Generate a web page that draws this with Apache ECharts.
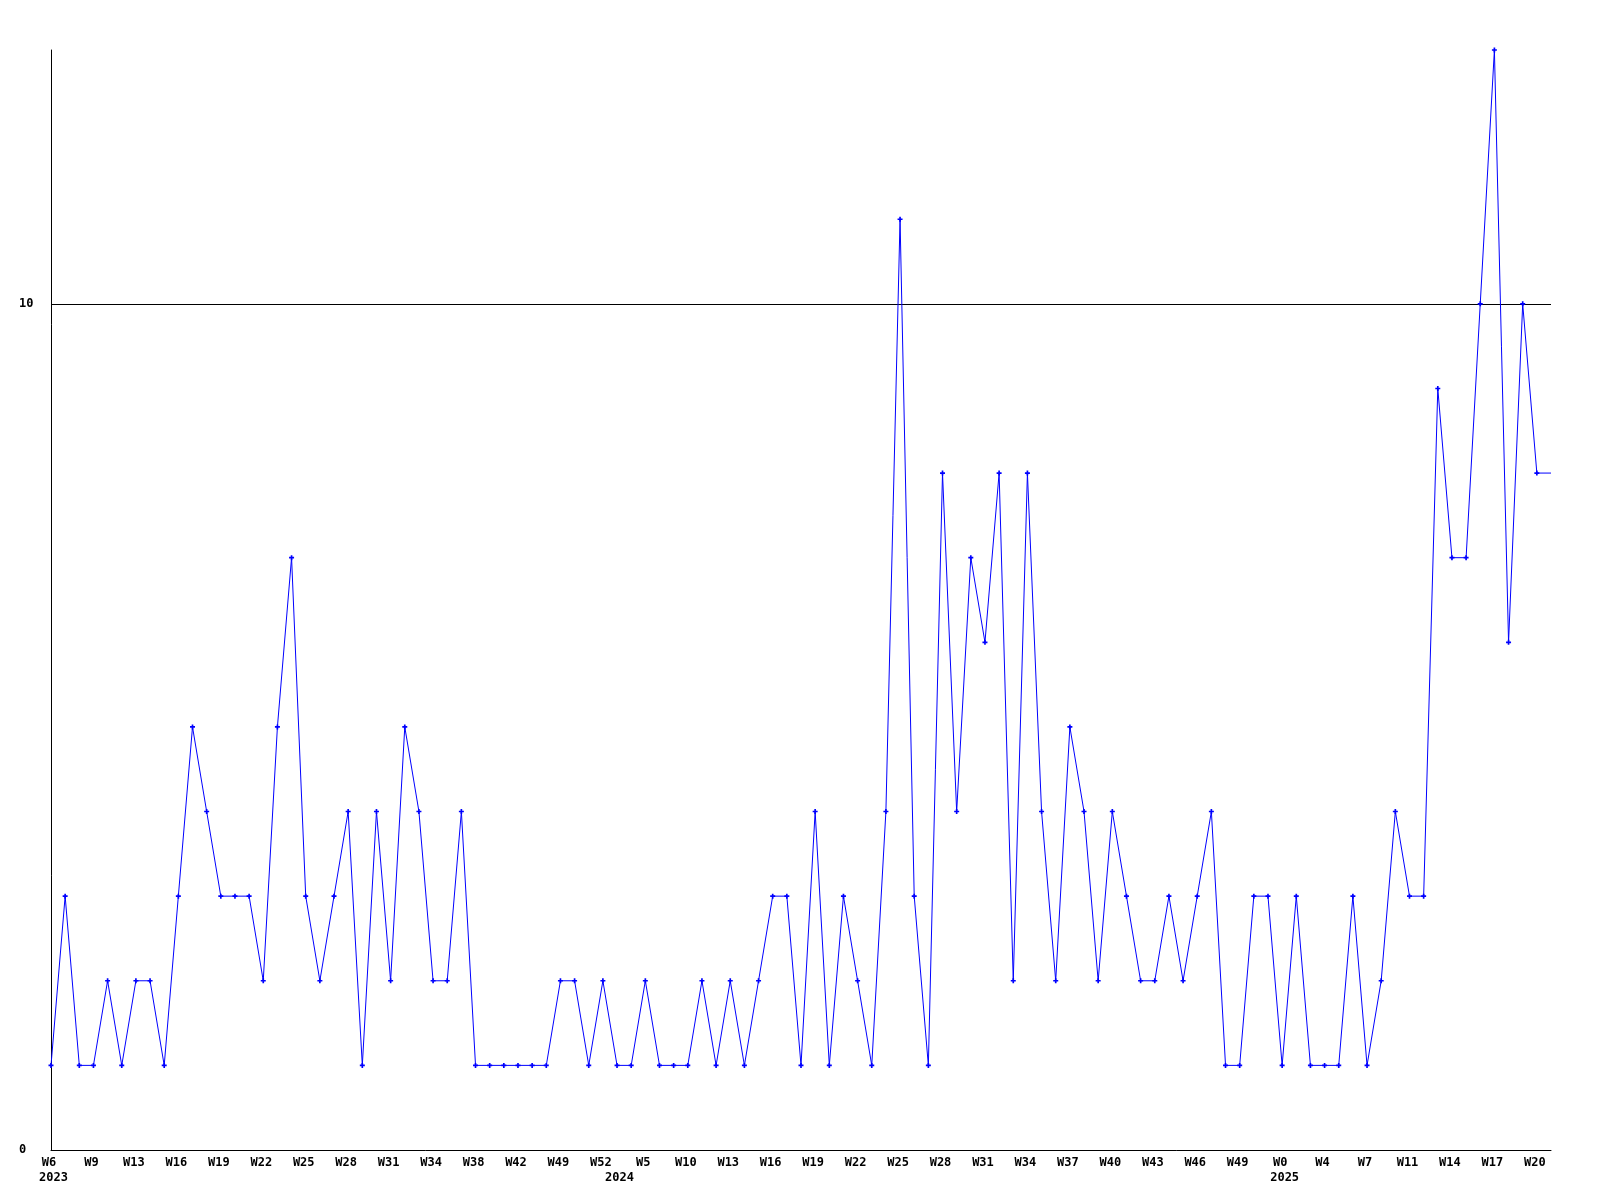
<!DOCTYPE html>
<html>
<head>
<meta charset="utf-8">
<script src="https://cdn.jsdelivr.net/npm/echarts@6/dist/echarts.min.js"></script>
<style>
  html, body { margin: 0; padding: 0; background: #ffffff; }
  #chart { width: 1600px; height: 1200px; }
</style>
</head>
<body>
<div id="chart"></div>
<script>
// Week numbers per year, as shown on the axis (every third one labelled)
const weeks2023 = [6,7,8,9,10,11,13,14,15,16,17,18,19,20,21,22,23,24,25,26,27,28,29,30,31,32,33,34,35,36,38,39,40,42,44,46,49,50,51,52];
const weeks2024 = [0,2,5,7,8,10,11,12,13,14,15,16,17,18,19,20,21,22,23,24,25,26,27,28,29,30,31,32,33,34,35,36,37,38,39,40,41,42,43,44,45,46,47,48,49,50,51];
const weeks2025 = [0,1,2,4,5,6,7,8,9,11,12,13,14,15,16,17,18,19,20,21];

// Weekly counts
const values = [
  1,3,1,1,2,1,2,2,1,3,
  5,4,3,3,3,2,5,7,3,2,
  3,4,1,4,2,5,4,2,2,4,
  1,1,1,1,1,1,2,2,1,2,
  1,1,2,1,1,1,2,1,2,1,
  2,3,3,1,4,1,3,2,1,4,
  11,3,1,8,4,7,6,8,2,8,
  4,2,5,4,2,4,3,2,2,3,
  2,3,4,1,1,3,3,1,3,1,
  1,1,3,1,2,4,3,3,9,7,
  7,10,13,6,10,8,8
];

const yTicks = [0, 10];
const refLine = 10;

const categories = []
  .concat(weeks2023.map(w => '2023-W' + w))
  .concat(weeks2024.map(w => '2024-W' + w))
  .concat(weeks2025.map(w => '2025-W' + w));

function yearOf(i) { return categories[i].split('-')[0]; }
function isYearStart(i) { return i === 0 || yearOf(i) !== yearOf(i - 1); }

const chart = echarts.init(document.getElementById('chart'), null, { renderer: 'canvas' });

const FONT = '"DejaVu Sans Mono", "Liberation Mono", monospace';
const txt = { color: '#000000', fontFamily: FONT, fontWeight: 'bold', fontSize: 12, lineHeight: 15 };

chart.setOption({
  backgroundColor: '#ffffff',
  animation: false,
  grid: { left: 51, right: 49, top: 50, bottom: 50, containLabel: false },
  xAxis: {
    type: 'category',
    data: categories,
    boundaryGap: false,
    axisLine: { show: true, lineStyle: { color: '#000000', width: 1 } },
    axisTick: { show: false },
    splitLine: { show: false },
    axisLabel: Object.assign({
      interval: function (index) { return index % 3 === 0 || isYearStart(index); },
      margin: 5,
      formatter: function (value, index) {
        const parts = value.split('-');
        const wk = index % 3 === 0 ? '{w|' + parts[1] + '}' : '{w| }';
        return isYearStart(index) ? wk + '\n{y|' + parts[0] + '}' : wk;
      },
      rich: {
        w: Object.assign({ padding: [0, 4, 0, 0] }, txt),
        y: Object.assign({ padding: [0, 0, 0, 5] }, txt)
      }
    }, txt)
  },
  yAxis: {
    type: 'value',
    min: 0,
    max: 13,
    interval: 10,
    axisLine: { show: true, lineStyle: { color: '#000000', width: 1 } },
    axisTick: { show: false },
    splitLine: { show: false },
    axisLabel: Object.assign({
      showMaxLabel: false,
      align: 'left',
      margin: 32,
      formatter: function (v) { return yTicks.indexOf(v) >= 0 ? String(v) : ''; }
    }, txt)
  },
  series: [{
    type: 'line',
    data: values.map((v, i) => i === values.length - 1 ? { value: v, symbol: 'none' } : v),
    symbol: 'path://M1,0H2V1H3V2H2V3H1V2H0V1H1Z',
    symbolSize: 5,
    showAllSymbol: true,
    itemStyle: { color: '#0000ff' },
    lineStyle: { color: '#0000ff', width: 1 },
    z: 3,
    markLine: {
      silent: true,
      symbol: ['none', 'none'],
      label: { show: false },
      lineStyle: { color: '#000000', width: 1, type: 'solid' },
      data: [{ yAxis: refLine }],
      z: 1
    }
  }]
});
</script>
</body>
</html>
